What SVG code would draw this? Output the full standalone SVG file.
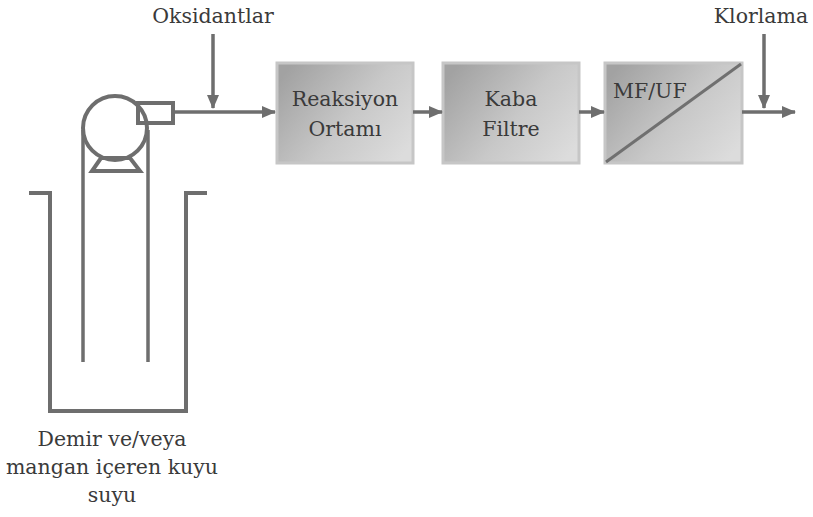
<svg xmlns="http://www.w3.org/2000/svg" width="813" height="517" viewBox="0 0 813 517">
  <style>
    .ln { fill: none; stroke: #6e6e6e; stroke-width: 4; }
    .pipe { fill: none; stroke: #6e6e6e; stroke-width: 3.5; }
    .box { fill: url(#boxFill); stroke: #c6c6c6; stroke-width: 3; }
    .t { font-family: "DejaVu Serif", "Liberation Serif", serif; font-size: 20.5px; fill: #3a3a3a; }
    .c { text-anchor: middle; }
  </style>
  <defs>
    <linearGradient id="boxFill" x1="0" y1="0.2" x2="1" y2="0.8">
      <stop offset="0" stop-color="#a2a2a2"/>
      <stop offset="0.55" stop-color="#c8c8c8"/>
      <stop offset="1" stop-color="#dcdcdc"/>
    </linearGradient>
    <marker id="arrow" markerWidth="14" markerHeight="12" refX="13" refY="6" orient="auto" markerUnits="userSpaceOnUse">
      <path d="M0,0 L14,6 L0,12 Z" fill="#6e6e6e"/>
    </marker>
  </defs>

  <!-- well casing -->
  <g id="well">
    <polyline class="ln" points="29,193 50,193 50,411 186,411 186,193 207,193"/>
    <line class="pipe" x1="83" y1="130" x2="83" y2="362"/>
    <line class="pipe" x1="148" y1="130" x2="148" y2="362"/>
  </g>

  <!-- pump -->
  <g id="pump">
    <rect class="ln" x="138" y="103" width="35" height="20" fill="#fff"/>
    <polygon class="ln" points="101,158 130,158 140,171 92,171" fill="#fff"/>
    <circle class="ln" cx="115" cy="128" r="32" fill="#fff"/>
  </g>

  <!-- process units -->
  <g id="reaksiyon">
    <rect class="box" x="277" y="63" width="136" height="100"/>
    <text class="t c" x="345" y="106">Reaksiyon</text>
    <text class="t c" x="345" y="136">Ortamı</text>
  </g>
  <g id="kaba-filtre">
    <rect class="box" x="443" y="63" width="136" height="100"/>
    <text class="t c" x="511" y="106">Kaba</text>
    <text class="t c" x="511" y="136">Filtre</text>
  </g>
  <g id="mf-uf">
    <rect class="box" x="605" y="63" width="137" height="100"/>
    <line x1="606" y1="162" x2="741" y2="64" stroke="#707070" stroke-width="3"/>
    <text class="t" x="613" y="98">MF/UF</text>
  </g>

  <!-- connectors -->
  <g id="connectors">
    <line class="pipe" x1="173" y1="112" x2="275" y2="112" marker-end="url(#arrow)"/>
    <line class="pipe" x1="213" y1="34" x2="213" y2="108" marker-end="url(#arrow)"/>
    <line class="pipe" x1="413" y1="112" x2="442" y2="112" marker-end="url(#arrow)"/>
    <line class="pipe" x1="579" y1="112" x2="604" y2="112" marker-end="url(#arrow)"/>
    <line class="pipe" x1="742" y1="112" x2="795" y2="112" marker-end="url(#arrow)"/>
    <line class="pipe" x1="764" y1="34" x2="764" y2="108" marker-end="url(#arrow)"/>
  </g>

  <!-- labels -->
  <g id="labels">
    <text class="t c" x="213" y="23">Oksidantlar</text>
    <text class="t c" x="761" y="23">Klorlama</text>
    <text class="t c" x="112" y="446">Demir ve/veya</text>
    <text class="t c" x="112" y="474">mangan içeren kuyu</text>
    <text class="t c" x="112" y="502">suyu</text>
  </g>
</svg>
